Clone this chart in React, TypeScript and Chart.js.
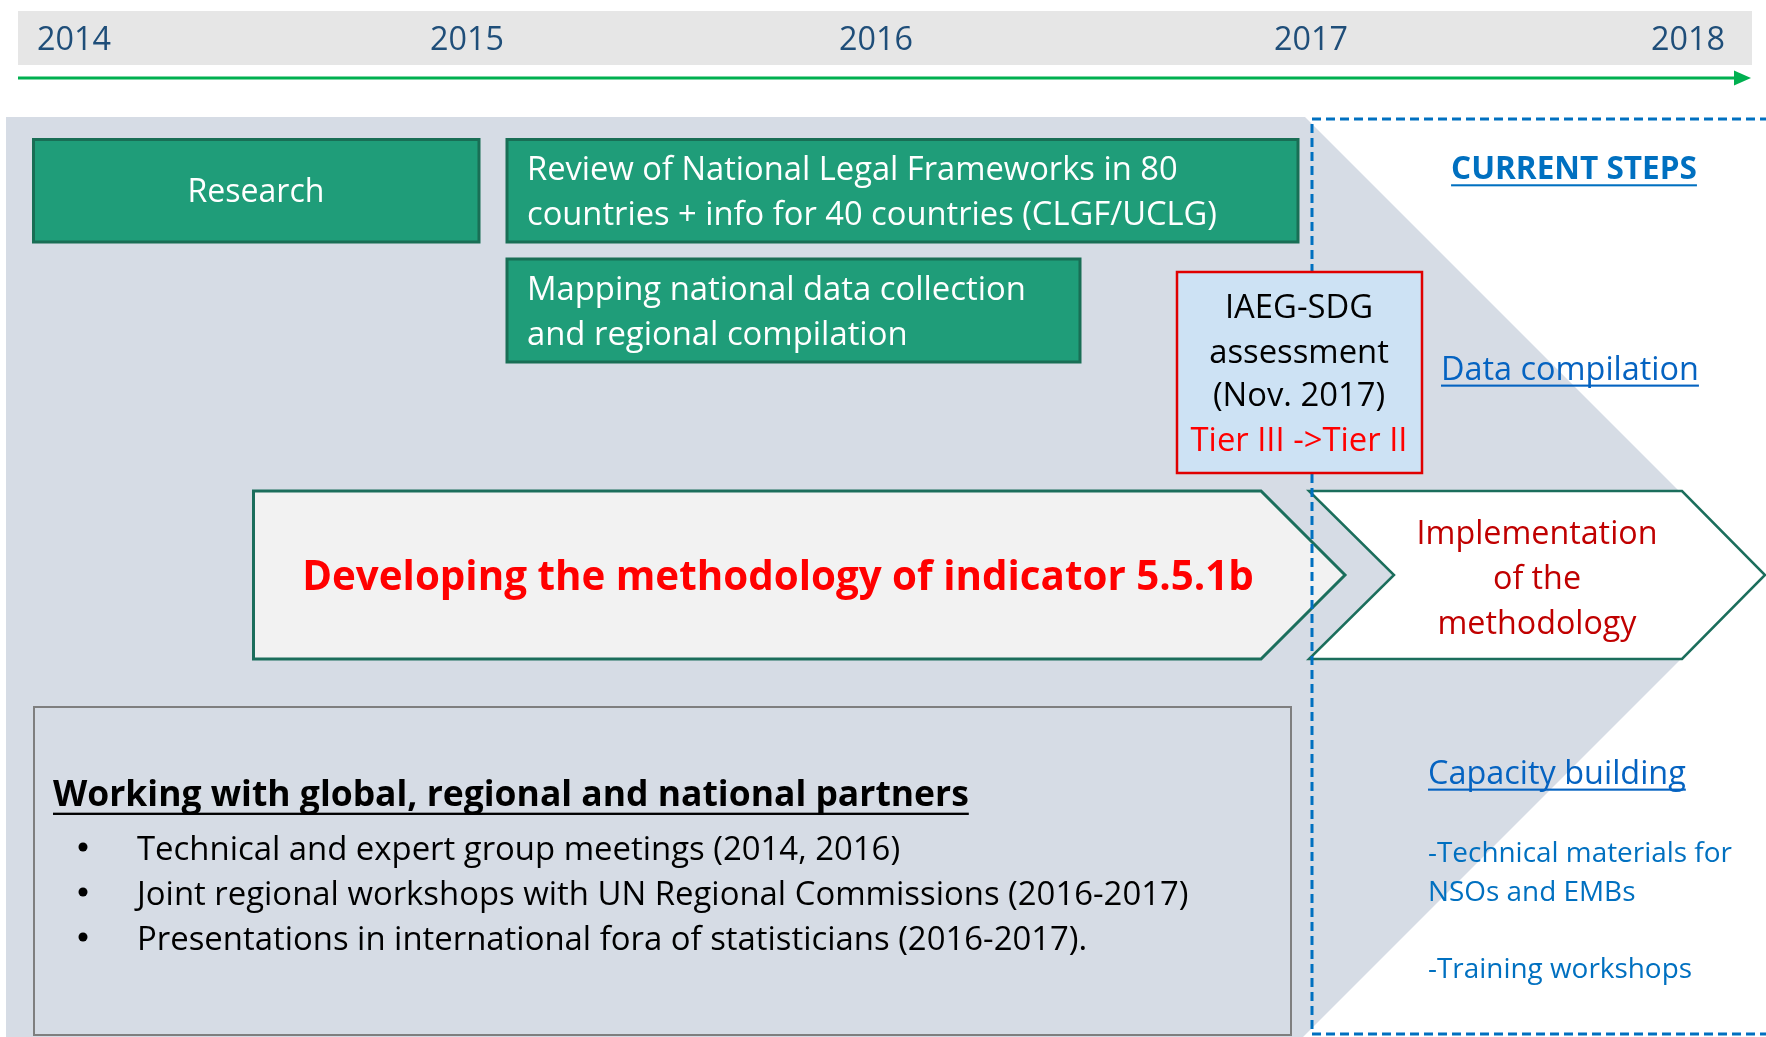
import React, { useEffect, useRef } from 'react';
import { Chart, registerables } from 'chart.js';

Chart.register(...registerables);

// ---------- content ----------
const years = ['2014', '2015', '2016', '2017', '2018'];
const researchLabel = ['Research'];
const reviewLines = ['Review of National Legal Frameworks in 80', 'countries + info for 40 countries (CLGF/UCLG)'];
const mappingLines = ['Mapping national data collection', 'and regional compilation'];
const iaegLines = ['IAEG-SDG', 'assessment', '(Nov. 2017)'];
const tierLine = ['Tier III ->Tier II'];
const developingLabel = ['Developing the methodology of indicator 5.5.1b'];
const implementationLines = ['Implementation', 'of the', 'methodology'];
const currentStepsTitle = ['CURRENT STEPS'];
const dataCompilationLabel = ['Data compilation'];
const capacityTitle = ['Capacity building'];
const capacityItems = ['-Technical materials for', 'NSOs and EMBs', '-Training workshops'];
const partnersHeading = ['Working with global, regional and national partners'];
const partnersBullets = [
  'Technical and expert group meetings (2014, 2016)',
  'Joint regional workshops with UN Regional Commissions (2016-2017)',
  'Presentations in international fora of statisticians (2016-2017).',
];

// ---------- layout (canvas units) ----------
const W = 1766;
const H = 1037;
const FONT = '"Open Sans", "DejaVu Sans", sans-serif';
const CAP = 0.714;

const yearX = [74, 467, 876, 1311, 1688];

function fitSize(ctx: CanvasRenderingContext2D, text: string, weight: string, target: number) {
  ctx.font = `${weight} 100px ${FONT}`;
  const w = ctx.measureText(text).width;
  return (100 * target) / w;
}

const diagramPlugin = {
  id: 'diagram',
  afterDraw(chart: any) {
    const ctx: CanvasRenderingContext2D = chart.ctx;
    const sx = chart.scales.x;
    const sy = chart.scales.y;
    const X = (v: number) => sx.getPixelForValue(v);
    const Y = (v: number) => sy.getPixelForValue(v);

    const poly = (pts: number[][], fill: string | null, stroke: string | null, lw = 2, dash: number[] = []) => {
      ctx.save();
      ctx.beginPath();
      pts.forEach((p, i) => (i === 0 ? ctx.moveTo(X(p[0]), Y(p[1])) : ctx.lineTo(X(p[0]), Y(p[1]))));
      ctx.closePath();
      if (fill) {
        ctx.fillStyle = fill;
        ctx.fill();
      }
      if (stroke) {
        ctx.setLineDash(dash);
        ctx.strokeStyle = stroke;
        ctx.lineWidth = lw;
        ctx.lineJoin = 'miter';
        ctx.stroke();
      }
      ctx.restore();
    };
    const rect = (x0: number, y0: number, x1: number, y1: number, fill: string | null, stroke: string | null, lw = 2, dash: number[] = []) =>
      poly([[x0, y0], [x1, y0], [x1, y1], [x0, y1]], fill, stroke, lw, dash);

    const text = (
      str: string, x: number, cy: number, size: number, weight: string, color: string,
      align: CanvasTextAlign = 'left', underline = 0,
    ) => {
      ctx.save();
      ctx.font = `${weight} ${size}px ${FONT}`;
      ctx.fillStyle = color;
      ctx.textAlign = align;
      ctx.textBaseline = 'alphabetic';
      const base = Y(cy) + (CAP * size) / 2;
      ctx.fillText(str, X(x), base);
      if (underline) {
        const w = ctx.measureText(str).width;
        const left = align === 'center' ? X(x) - w / 2 : align === 'right' ? X(x) - w : X(x);
        ctx.fillStyle = color;
        ctx.fillRect(left, base + underline, w, Math.max(2, size * 0.065));
      }
      ctx.restore();
    };

    // white page
    ctx.save();
    ctx.fillStyle = '#ffffff';
    ctx.fillRect(0, 0, chart.width, chart.height);
    ctx.restore();

    // header band + years
    rect(18, 11, 1752, 65, '#e6e6e6', null);
    const ys = fitSize(ctx, '2014', '400', 74);
    years.forEach((y, i) => text(y, yearX[i], 38.5, ys, '400', '#1f4e79', 'center'));

    // green timeline arrow
    ctx.save();
    ctx.strokeStyle = '#00b050';
    ctx.lineWidth = 3;
    ctx.beginPath();
    ctx.moveTo(X(18), Y(78));
    ctx.lineTo(X(1738), Y(78));
    ctx.stroke();
    ctx.restore();
    poly([[1734, 70.5], [1751, 78], [1734, 85.5]], '#00b050', null);

    // big background chevron
    poly([[6, 117], [1305, 117], [1764, 576], [1303, 1037], [6, 1037]], '#d6dce5', null);

    // green boxes
    const gFill = '#1f9d79';
    const gStroke = '#196e55';
    rect(33.5, 139.5, 479, 242, gFill, gStroke, 3);
    rect(507, 139.5, 1298, 242, gFill, gStroke, 3);
    rect(507, 259, 1080, 362, gFill, gStroke, 3);

    const rs = fitSize(ctx, researchLabel[0], '400', 137);
    text(researchLabel[0], 256, 191, rs, '400', '#ffffff', 'center');
    const rv = fitSize(ctx, reviewLines[0], '400', 651);
    reviewLines.forEach((l, i) => text(l, 527, [168, 213][i], rv, '400', '#ffffff'));
    const mp = fitSize(ctx, mappingLines[0], '400', 499);
    mappingLines.forEach((l, i) => text(l, 527, [288, 333][i], mp, '400', '#ffffff'));

    // chevrons
    const cStroke = '#1b6e5c';
    poly([[253.5, 491], [1261, 491], [1345, 575], [1261, 659], [253.5, 659]], '#f2f2f2', cStroke, 3);
    poly([[1309, 491], [1682, 491], [1765, 575], [1682, 659], [1309, 659], [1394, 575]], '#ffffff', cStroke, 2.5);

    const dv = fitSize(ctx, developingLabel[0], '700', 952);
    text(developingLabel[0], 778, 576, dv, '700', '#ff0000', 'center');
    const im = fitSize(ctx, implementationLines[0], '400', 241);
    implementationLines.forEach((l, i) => text(l, 1537, [532, 577, 622][i], im, '400', '#c00000', 'center'));

    // dashed "current steps" frame
    rect(1312, 119, 1790, 1034, null, '#0070c0', 3, [9, 5]);

    // IAEG box
    rect(1177, 272, 1422, 473, '#cde2f4', '#e00000', 2.5);
    const ia = fitSize(ctx, tierLine[0], '400', 217);
    iaegLines.forEach((l, i) => text(l, 1299, [306, 351, 394][i], ia, '400', '#000000', 'center'));
    text(tierLine[0], 1299, 439, ia, '400', '#ff0000', 'center');

    // right side labels
    const cs = fitSize(ctx, currentStepsTitle[0], '700', 246);
    text(currentStepsTitle[0], 1574, 168, cs, '700', '#0070c0', 'center', 5);
    const dc = fitSize(ctx, dataCompilationLabel[0], '400', 258);
    text(dataCompilationLabel[0], 1441, 368, dc, '400', '#0563c1', 'left', 5);
    const cb = fitSize(ctx, capacityTitle[0], '400', 258);
    text(capacityTitle[0], 1428, 772, cb, '400', '#0563c1', 'left', 5);
    const ci = fitSize(ctx, capacityItems[0], '400', 304);
    capacityItems.forEach((l, i) => text(l, 1428, [852, 891, 968][i], ci, '400', '#0070c0'));

    // partners box
    rect(34, 707, 1291, 1035, null, '#7f7f7f', 2);
    const ph = fitSize(ctx, partnersHeading[0], '700', 916);
    text(partnersHeading[0], 53, 793, ph, '700', '#000000', 'left', 7);
    const pb = fitSize(ctx, partnersBullets[1], '400', 1052);
    partnersBullets.forEach((l, i) => {
      const cy = [848, 893, 938][i];
      ctx.save();
      ctx.fillStyle = '#000000';
      ctx.beginPath();
      ctx.arc(X(83), Y(cy - 1), 4.5, 0, Math.PI * 2);
      ctx.fill();
      ctx.restore();
      text(l, 137, cy, pb, '400', '#000000');
    });
  },
};

export default function App() {
  const canvasRef = useRef<HTMLCanvasElement | null>(null);

  useEffect(() => {
    let chart: Chart | null = null;
    let cancelled = false;
    const make = () => {
      if (cancelled || !canvasRef.current) return;
      chart = new Chart(canvasRef.current, {
        type: 'scatter',
        data: { datasets: [{ data: [], pointRadius: 0 }] },
        options: {
          animation: false,
          responsive: false,
          maintainAspectRatio: false,
          devicePixelRatio: 1,
          layout: { padding: 0 },
          events: [],
          plugins: { legend: { display: false }, tooltip: { enabled: false } },
          scales: {
            x: { type: 'linear', min: 0, max: W, display: false },
            y: { type: 'linear', min: 0, max: H, reverse: true, display: false },
          },
        },
        plugins: [diagramPlugin],
      } as any);
    };
    const fonts = (document as any).fonts;
    if (fonts && fonts.load) {
      Promise.all([
        fonts.load(`400 32px "Open Sans"`),
        fonts.load(`700 32px "Open Sans"`),
      ]).then(make, make);
    } else {
      make();
    }
    return () => {
      cancelled = true;
      if (chart) chart.destroy();
    };
  }, []);

  return (
    <div style={{ position: 'fixed', left: 0, top: 0, width: W, height: H, background: '#ffffff' }}>
      <canvas ref={canvasRef} width={W} height={H} style={{ width: W, height: H, display: 'block' }} />
    </div>
  );
}
